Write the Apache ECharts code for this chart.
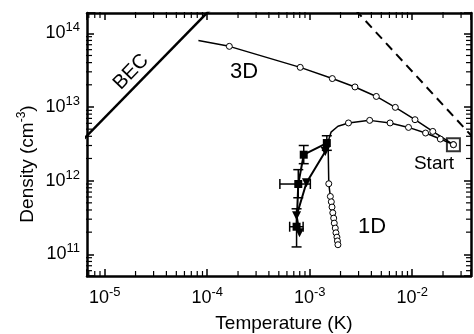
<!DOCTYPE html>
<html>
<head>
<meta charset="utf-8">
<script src="https://cdn.jsdelivr.net/npm/echarts@6/dist/echarts.min.js"></script>
<style>
html, body { margin: 0; padding: 0; background: #fff; }
#main { width: 474px; height: 334px; }
</style>
</head>
<body>
<div id="main"></div>
<script>
// axis ranges: temperature (K) and density (cm^-3)
var tMin = 6.72e-6, tMax = 0.0375;
var nMin = 5.08e10, nMax = 1.886e14;

// tick labels (powers of ten)
var xTickExps = ['-5', '-4', '-3', '-2'];
var yTickExps = ['11', '12', '13', '14'];

// BEC line and the dashed line
var becT = [6.0e-6, 1.1e-4];
var becN = [3.47e12, 2.18e14];
var dashT = [2.8e-3, 0.04];
var dashN = [2.07e14, 3.75e12];

// 3D evaporation (first point has no marker)
var t3d = [8.21e-5, 1.645e-4, 8.09e-4, 1.663e-3, 2.766e-3, 4.47e-3, 6.85e-3, 1.066e-2, 1.588e-2, 2.526e-2];
var n3d = [7.96e13, 6.65e13, 3.45e13, 2.43e13, 1.87e13, 1.39e13, 9.88e12, 6.72e12, 4.66e12, 3.08e12];

// 1D evaporation, from the start point
var t1d = [2.526e-2, 1.882e-2, 1.351e-2, 9.21e-3, 6.09e-3, 3.85e-3, 2.39e-3, 1.887e-3, 1.616e-3, 1.512e-3,
           1.536e-3, 1.591e-3, 1.626e-3, 1.652e-3, 1.681e-3, 1.715e-3, 1.738e-3, 1.777e-3, 1.804e-3, 1.845e-3, 1.866e-3, 1.887e-3];
var n1d = [3.08e12, 3.67e12, 4.43e12, 5.28e12, 6.07e12, 6.58e12, 6.07e12, 5.48e12, 4.55e12, 3.38e12,
           9.08e11, 6.1e11, 5.16e11, 4.38e11, 3.66e11, 3.10e11, 2.65e11, 2.27e11, 1.96e11, 1.71e11, 1.52e11, 1.35e11];
var oneDNoMarker = [7, 8, 9];

// filled squares with error bars
var sqT = [1.47e-3, 8.75e-4, 7.74e-4, 7.45e-4];
var sqN = [3.24e12, 2.25e12, 9.0e11, 2.37e11];
var sqTLo = [1.47e-3, 8.75e-4, 5.12e-4, 6.38e-4];
var sqTHi = [1.47e-3, 8.75e-4, 1.015e-3, 8.63e-4];
var sqNLo = [2.58e12, 1.70e12, 5.86e11, 1.26e11];
var sqNHi = [4.07e12, 3.0e12, 1.41e12, 4.15e11];

// filled triangles
var triT = [1.42e-3, 9.3e-4, 7.45e-4, 7.96e-4];
var triN = [2.49e12, 9.35e11, 3.34e11, 1.97e11];

// start point
var startT = [2.526e-2];
var startN = [3.08e12];

var FONT = '"Liberation Sans", Arial, Helvetica, sans-serif';

function pairs(a, b) {
    return a.map(function (v, i) { return [v, b[i]]; });
}

// minor ticks at 2..9 x 10^k inside the range
function minorTicks(lo, hi) {
    var out = [];
    for (var k = Math.floor(Math.log10(lo)); k <= Math.ceil(Math.log10(hi)); k++) {
        for (var m = 2; m <= 9; m++) {
            var v = m * Math.pow(10, k);
            if (v > lo && v < hi) out.push(v);
        }
    }
    return out;
}
var xMinor = minorTicks(tMin, tMax);
var yMinor = minorTicks(nMin, nMax);

function powLabel(list) {
    return function (v) {
        var l = Math.log10(v);
        var e = Math.round(l);
        if (Math.abs(l - e) > 1e-6) return '';
        var s = String(e);
        if (list.indexOf(s) < 0) return '';
        return '{b|10}{s|' + s + '}';
    };
}

// a minor tick drawn as a thin rect symbol sitting on an axis edge
function tickSeries(data, size, offset) {
    return {
        type: 'scatter', silent: true, clip: false, z: 10,
        symbol: 'rect', symbolSize: size, symbolOffset: offset,
        itemStyle: { color: '#000', opacity: 1 },
        data: data
    };
}

var labelRich = {
    b: { fontSize: 18, fontFamily: FONT, color: '#000', lineHeight: 24 },
    s: { fontSize: 13, fontFamily: FONT, color: '#000', lineHeight: 10, verticalAlign: 'top' }
};

var lineAxis = { show: true, onZero: false, lineStyle: { color: '#000', width: 2.5 } };
var majorTick = { show: true, inside: true, length: 7, lineStyle: { color: '#000', width: 1.5 } };

var myChart = echarts.init(document.getElementById('main'));

var option = {
    animation: false,
    backgroundColor: '#fff',
    grid: { left: 87, top: 13, right: -3, bottom: 58 },
    xAxis: [
        {
            type: 'log', logBase: 10, min: tMin, max: tMax, position: 'bottom',
            axisLine: lineAxis, axisTick: majorTick, splitLine: { show: false },
            axisLabel: { formatter: powLabel(xTickExps), rich: labelRich, margin: 10 }
        },
        {
            type: 'log', logBase: 10, min: tMin, max: tMax, position: 'top',
            axisLine: lineAxis, axisTick: majorTick, splitLine: { show: false },
            axisLabel: { show: false }
        }
    ],
    yAxis: [
        {
            type: 'log', logBase: 10, min: nMin, max: nMax, position: 'left',
            axisLine: lineAxis, axisTick: majorTick, splitLine: { show: false },
            axisLabel: { formatter: powLabel(yTickExps), rich: labelRich, margin: 7 }
        },
        {
            type: 'log', logBase: 10, min: nMin, max: nMax, position: 'right',
            axisLine: lineAxis, axisTick: majorTick, splitLine: { show: false },
            axisLabel: { show: false }
        }
    ],
    graphic: [
        {
            type: 'text', x: 28, y: 164, rotation: Math.PI / 2,
            style: {
                text: '{a|Density (cm}{s|-3}{a|)}', x: 0, y: 0,
                align: 'center', verticalAlign: 'middle',
                rich: {
                    a: { fontSize: 19, fontFamily: FONT, color: '#000', lineHeight: 24 },
                    s: { fontSize: 12, fontFamily: FONT, color: '#000', lineHeight: 10, verticalAlign: 'top' }
                }
            }
        },
        {
            type: 'text', x: 284, y: 324,
            style: { text: 'Temperature (K)', font: '19px ' + FONT, fill: '#000', align: 'center', verticalAlign: 'middle' }
        },
        {
            type: 'text', x: 131, y: 72, rotation: 46 * Math.PI / 180,
            style: { text: 'BEC', font: '20px ' + FONT, fill: '#000', align: 'center', verticalAlign: 'middle' }
        },
        {
            type: 'text', x: 244, y: 72,
            style: { text: '3D', font: '22px ' + FONT, fill: '#000', align: 'center', verticalAlign: 'middle' }
        },
        {
            type: 'text', x: 372, y: 227,
            style: { text: '1D', font: '22px ' + FONT, fill: '#000', align: 'center', verticalAlign: 'middle' }
        },
        {
            type: 'text', x: 434, y: 164,
            style: { text: 'Start', font: '19px ' + FONT, fill: '#000', align: 'center', verticalAlign: 'middle' }
        }
    ],
    series: [
        // minor ticks on all four sides
        tickSeries(xMinor.map(function (v) { return [v, nMin]; }), [1.2, 6], [0, -2]),
        tickSeries(xMinor.map(function (v) { return [v, nMax]; }), [1.2, 6], [0, 2]),
        tickSeries(yMinor.map(function (v) { return [tMin, v]; }), [6, 1.2], [2, 0]),
        tickSeries(yMinor.map(function (v) { return [tMax, v]; }), [6, 1.2], [-2, 0]),
        {
            name: 'BEC', type: 'line', data: pairs(becT, becN), symbol: 'none',
            lineStyle: { color: '#000', width: 2.5 }
        },
        {
            name: 'dash', type: 'line', data: pairs(dashT, dashN), symbol: 'none',
            lineStyle: { color: '#000', width: 2, type: [9, 6] }
        },
        {
            name: '3D', type: 'line', symbol: 'circle', symbolSize: 6,
            data: pairs(t3d, n3d).map(function (p, i) {
                return i === 0 ? { value: p, symbol: 'none' } : p;
            }),
            lineStyle: { color: '#000', width: 1.5 },
            itemStyle: { color: '#fff', borderColor: '#000', borderWidth: 1 }
        },
        {
            name: '1D', type: 'line', symbol: 'circle', symbolSize: 6,
            data: pairs(t1d, n1d).map(function (p, i) {
                return oneDNoMarker.indexOf(i) >= 0 ? { value: p, symbol: 'none' } : p;
            }),
            lineStyle: { color: '#000', width: 1.5 },
            itemStyle: { color: '#fff', borderColor: '#000', borderWidth: 1 }
        },
        {
            name: 'triangles', type: 'line', symbol: 'triangle', symbolSize: 9, symbolRotate: 180,
            data: pairs(triT, triN),
            lineStyle: { color: '#000', width: 2 },
            itemStyle: { color: '#000' }
        },
        {
            name: 'squares', type: 'line', symbol: 'rect', symbolSize: 8,
            data: pairs(sqT, sqN),
            lineStyle: { color: '#000', width: 2 },
            itemStyle: { color: '#000' }
        },
        {
            // error bars of the squares
            type: 'custom', silent: true,
            data: sqT.map(function (t, i) { return [t, sqN[i], sqTLo[i], sqTHi[i], sqNLo[i], sqNHi[i]]; }),
            renderItem: function (params, api) {
                var c = api.coord([api.value(0), api.value(1)]);
                var xl = api.coord([api.value(2), api.value(1)])[0];
                var xh = api.coord([api.value(3), api.value(1)])[0];
                var yl = api.coord([api.value(0), api.value(4)])[1];
                var yh = api.coord([api.value(0), api.value(5)])[1];
                var st = { stroke: '#000', lineWidth: 1.5 };
                var cap = 5;
                var ch = [];
                if (yl - yh > 1) {
                    ch.push({ type: 'line', shape: { x1: c[0], y1: yh, x2: c[0], y2: yl }, style: st });
                    ch.push({ type: 'line', shape: { x1: c[0] - cap, y1: yh, x2: c[0] + cap, y2: yh }, style: st });
                    ch.push({ type: 'line', shape: { x1: c[0] - cap, y1: yl, x2: c[0] + cap, y2: yl }, style: st });
                }
                if (xh - xl > 1) {
                    ch.push({ type: 'line', shape: { x1: xl, y1: c[1], x2: xh, y2: c[1] }, style: st });
                    ch.push({ type: 'line', shape: { x1: xl, y1: c[1] - cap, x2: xl, y2: c[1] + cap }, style: st });
                    ch.push({ type: 'line', shape: { x1: xh, y1: c[1] - cap, x2: xh, y2: c[1] + cap }, style: st });
                }
                return { type: 'group', children: ch };
            }
        },
        {
            name: 'start', type: 'scatter', symbol: 'rect', symbolSize: 13,
            data: pairs(startT, startN),
            itemStyle: { color: 'rgba(0,0,0,0)', borderColor: '#000', borderWidth: 2 }
        }
    ]
};

myChart.setOption(option);
</script>
</body>
</html>
